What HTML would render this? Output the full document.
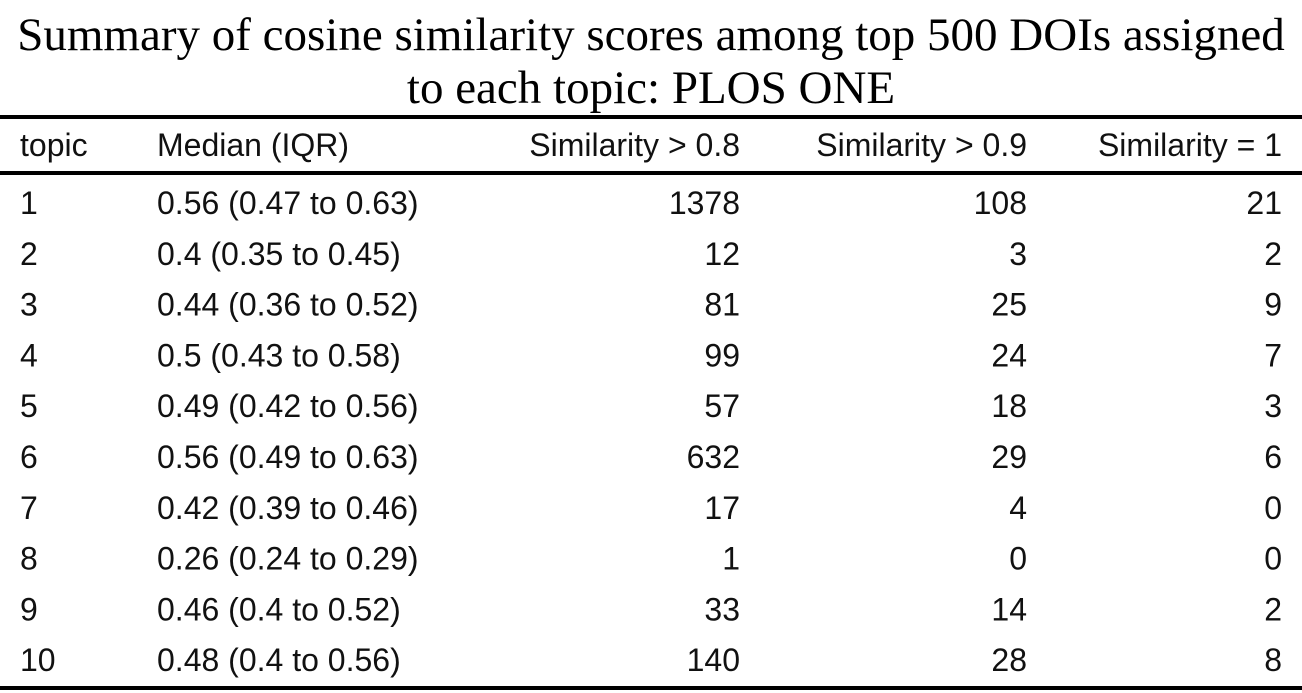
<!DOCTYPE html>
<html><head><meta charset="utf-8"><style>
html,body{margin:0;padding:0;background:#fff;width:1302px;height:693px;overflow:hidden}
svg text{fill:#000}
.t{font-family:"Liberation Serif",serif;font-size:47px}
.c{font-family:"Liberation Sans",sans-serif;font-size:32px;fill:#111}
</style></head><body>
<svg id="tbl" width="1302" height="693">
<text class="t" x="651" y="50" text-anchor="middle">Summary of cosine similarity scores among top 500 DOIs assigned</text>
<text class="t" x="651" y="103" text-anchor="middle">to each topic: PLOS ONE</text>
<rect x="0" y="115" width="1302" height="4" fill="#000"/>
<rect x="0" y="171" width="1302" height="4" fill="#000"/>
<rect x="0" y="686" width="1302" height="4" fill="#000"/>
<g id="hdr"></g>
<g id="rows"></g>
</svg>
<script>
const headers=["topic","Median (IQR)","Similarity > 0.8","Similarity > 0.9","Similarity = 1"];
const topics=["1","2","3","4","5","6","7","8","9","10"];
const medians=["0.56 (0.47 to 0.63)","0.4 (0.35 to 0.45)","0.44 (0.36 to 0.52)","0.5 (0.43 to 0.58)","0.49 (0.42 to 0.56)","0.56 (0.49 to 0.63)","0.42 (0.39 to 0.46)","0.26 (0.24 to 0.29)","0.46 (0.4 to 0.52)","0.48 (0.4 to 0.56)"];
const sim08=[1378,12,81,99,57,632,17,1,33,140];
const sim09=[108,3,25,24,18,29,4,0,14,28];
const sim1=[21,2,9,7,3,6,0,0,2,8];
const NS="http://www.w3.org/2000/svg";
const colX=[20,157,740,1027,1282];
const anchors=["start","start","end","end","end"];
function txt(parent,x,y,s,anchor){
  const t=document.createElementNS(NS,"text");
  t.setAttribute("x",x);t.setAttribute("y",y);t.setAttribute("class","c");
  t.setAttribute("text-anchor",anchor);t.textContent=s;parent.appendChild(t);return t;
}
const hdr=document.getElementById("hdr");
headers.forEach((h,i)=>{
  const t=txt(hdr,colX[i],156,h,anchors[i]);
  
  
});
const rows=document.getElementById("rows");
topics.forEach((tp,r)=>{
  const y=214+r*50.8;
  const g=document.createElementNS(NS,"g");
  
  
  rows.appendChild(g);
  const vals=[tp,medians[r],String(sim08[r]),String(sim09[r]),String(sim1[r])];
  vals.forEach((v,i)=>{
    const t=txt(g,colX[i],y,v,anchors[i]);
    
    
  });
});
</script>
</body></html>
